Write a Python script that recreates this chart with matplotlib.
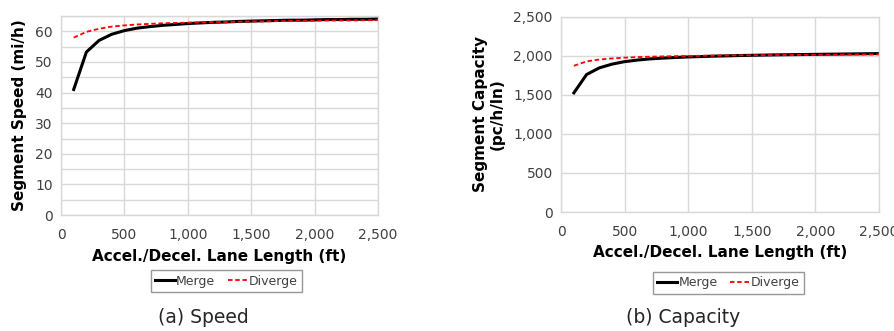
import matplotlib
matplotlib.use("Agg")
import matplotlib.pyplot as plt
from matplotlib.ticker import FuncFormatter, MultipleLocator

plt.rcParams['font.family'] = 'DejaVu Sans'

# lane length (ft)
lane_len = [100, 200, 300, 400, 500, 600, 700, 800, 900, 1000, 1100, 1200, 1300,
            1400, 1500, 1600, 1700, 1800, 1900, 2000, 2100, 2200, 2300, 2400, 2500]

# segment speed (mi/h)
speed_merge = [41.0, 53.2, 57.0, 59.0, 60.2, 61.0, 61.5, 61.9, 62.2, 62.5, 62.7, 62.9, 63.0,
               63.2, 63.3, 63.4, 63.5, 63.6, 63.6, 63.7, 63.8, 63.8, 63.9, 63.9, 64.0]
speed_diverge = [57.9, 59.8, 60.8, 61.5, 61.9, 62.2, 62.4, 62.6, 62.7, 62.8, 62.9, 63.0, 63.0,
                 63.1, 63.2, 63.2, 63.3, 63.3, 63.4, 63.4, 63.5, 63.5, 63.5, 63.6, 63.6]

# segment capacity (pc/h/ln)
cap_merge = [1525, 1760, 1845, 1893, 1925, 1945, 1960, 1970, 1978, 1985, 1990, 1995, 1999,
             2003, 2006, 2009, 2012, 2014, 2016, 2018, 2020, 2022, 2024, 2026, 2028]
cap_diverge = [1872, 1928, 1952, 1966, 1976, 1983, 1988, 1992, 1995, 1998, 2000, 2002, 2004,
               2006, 2007, 2009, 2010, 2011, 2012, 2013, 2014, 2015, 2016, 2017, 2018]

GRID = '#d9d9d9'
comma = FuncFormatter(lambda v, p: f"{int(v):,}")

fig = plt.figure(figsize=(8.95, 3.31), dpi=100)
ax1 = fig.add_axes([0.0682, 0.350, 0.354, 0.602])
ax2 = fig.add_axes([0.627, 0.3595, 0.355, 0.590])


def style(ax):
    for s in ax.spines.values():
        s.set_color(GRID)
        s.set_linewidth(1.0)
    ax.grid(True, which='both', color=GRID, linewidth=1.0)
    ax.set_axisbelow(True)
    ax.tick_params(length=0, labelsize=10, colors='#404040', pad=6)
    ax.tick_params(axis='x', pad=9)
    ax.tick_params(which='minor', length=0)
    ax.set_xlim(0, 2500)
    ax.xaxis.set_major_locator(MultipleLocator(500))
    ax.xaxis.set_major_formatter(comma)
    ax.set_xlabel('Accel./Decel. Lane Length (ft)', fontweight='bold', fontsize=11, labelpad=5)


# (a) speed
ax1.plot(lane_len, speed_merge, color='black', linewidth=2.2, label='Merge')
ax1.plot(lane_len, speed_diverge, color='red', linewidth=1.3, linestyle=(0, (2.5, 1.5)), label='Diverge')
style(ax1)
ax1.set_ylim(0, 65)
ax1.yaxis.set_major_locator(MultipleLocator(10))
ax1.yaxis.set_minor_locator(MultipleLocator(5))
ax1.set_ylabel('Segment Speed (mi/h)', fontweight='bold', fontsize=11, labelpad=6)

# (b) capacity
ax2.plot(lane_len, cap_merge, color='black', linewidth=2.2, label='Merge')
ax2.plot(lane_len, cap_diverge, color='red', linewidth=1.3, linestyle=(0, (2.5, 1.5)), label='Diverge')
style(ax2)
ax2.set_ylim(0, 2500)
ax2.yaxis.set_major_locator(MultipleLocator(500))
ax2.yaxis.set_major_formatter(comma)
ax2.set_ylabel('Segment Capacity\n(pc/h/ln)', fontweight='bold', fontsize=11, labelpad=6)

for ax, cx, cy in [(ax1, 0.253, 0.151), (ax2, 0.814, 0.146)]:
    leg = ax.legend(loc='center', bbox_to_anchor=(cx, cy), bbox_transform=fig.transFigure,
                    ncol=2, fontsize=9, frameon=True, fancybox=False, handlelength=1.6,
                    handletextpad=0.1, columnspacing=1.0, borderpad=0.35)
    leg.get_frame().set_edgecolor('#7f7f7f')
    leg.get_frame().set_linewidth(1.0)
    for t in leg.get_texts():
        t.set_color('#404040')

fig.text(0.227, 0.04, '(a) Speed', ha='center', va='center', fontsize=13.5, color='#262626')
fig.text(0.763, 0.04, '(b) Capacity', ha='center', va='center', fontsize=13.5, color='#262626')

fig.savefig('out.png', dpi=100)
